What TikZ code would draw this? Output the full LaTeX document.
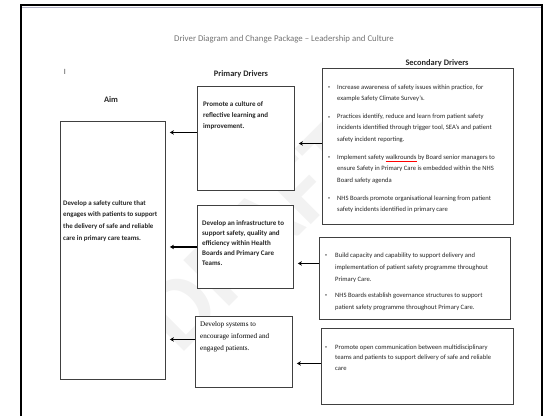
\documentclass[tikz,border=0pt]{standalone}
\usepackage{fontspec}
\setmainfont{Carlito}
\newfontfamily\wordserif{Liberation Serif}
\usetikzlibrary{shapes,calc,positioning,arrows.meta,shadows}

\newcommand{\bul}{\raisebox{0.6pt}{\scalebox{0.6}{\textbullet}}}
\newcommand{\spellmark}[1]{{\color{red}\underline{\textcolor{black!85}{#1}}}}

\begin{document}
\begin{tikzpicture}
	[x=1pt,y=-1pt,
	drvbox/.style={rectangle,draw=black!75,line width=0.9pt,fill=white,anchor=north west,inner sep=0pt,
		drop shadow={opacity=0.25,shadow xshift=1pt,shadow yshift=-1pt}},
	head/.style={font=\bfseries\fontsize{8.4}{9}\selectfont,text=black!85,inner sep=0pt},
	boxtext/.style={anchor=base west,inner sep=0pt,text=black!85,font=\fontsize{6.6}{11.3}\selectfont},
	feed/.style={-{Stealth[length=4pt,width=4.5pt]},line width=1.2pt,shorten >=4pt}]
	\useasboundingbox (0,0) rectangle (544,416);
	% watermark behind everything
	\node[rotate=45,text=black!5,font=\bfseries\fontsize{100}{100}\selectfont] (mark) at (255,235) {DRAFT};
	% page frame
	\draw[line width=1.6pt] (21,416) -- (21,5) -- (542,5) -- (542,416);
	\draw[line width=1pt,blue!25!black!30] (22,7) -- (541,7);
	
	\node[text=black!55,font=\fontsize{8.8}{10}\selectfont] (title) at (284,39) {Driver Diagram and Change Package -- Leadership and Culture};
	\node[head] (sechead) at (437,63) {Secondary Drivers};
	\node[head] (primhead) at (241,74) {Primary Drivers};
	\node[head] (aimhead) at (111,100) {Aim};
	\node[text=black!70,font=\fontsize{8}{9}\selectfont,inner sep=0pt] (cursor) at (65,72) {I};
	
	% boxes
	\node[drvbox,minimum width=105pt,minimum height=258pt] (aim) at (60,121) {};
	\node[drvbox,minimum width=97pt,minimum height=104pt] (p1) at (197,86) {};
	\node[drvbox,minimum width=96pt,minimum height=83pt] (p2) at (197,205) {};
	\node[drvbox,minimum width=97pt,minimum height=71pt] (p3) at (195,316) {};
	\node[drvbox,minimum width=191pt,minimum height=156pt] (s1) at (322,68) {};
	\node[drvbox,minimum width=191pt,minimum height=82pt] (s2) at (319,237) {};
	\node[drvbox,minimum width=192pt,minimum height=76pt] (s3) at (321,328) {};
	
	% texts
	\node[boxtext,font=\bfseries\fontsize{6.9}{11.7}\selectfont] (aimtxt) at (63,205)
	{\begin{tabular}[t]{@{}l@{}}Develop a safety culture that\\engages with patients to support\\the delivery of safe and reliable\\care in primary care teams.\end{tabular}};
	\node[boxtext,font=\bfseries\fontsize{7}{11}\selectfont] (p1txt) at (203,106)
	{\begin{tabular}[t]{@{}l@{}}Promote a culture of\\reflective learning and\\improvement.\end{tabular}};
	\node[boxtext,font=\bfseries\fontsize{7}{10.2}\selectfont] (p2txt) at (202,225)
	{\begin{tabular}[t]{@{}l@{}}Develop an infrastructure to\\support safety, quality and\\efficiency within Health\\Boards and Primary Care\\Teams.\end{tabular}};
	\node[boxtext,font=\wordserif\fontsize{7.1}{12}\selectfont,text=black] (p3txt) at (200,326)
	{\begin{tabular}[t]{@{}l@{}}Develop systems to\\encourage informed and\\engaged patients.\end{tabular}};
	
	\node[boxtext] (s1txt) at (328,89)
	{\begin{tabular}[t]{@{}p{9pt}@{}l@{}}
		\bul & Increase awareness of safety issues within practice, for\\
		& example Safety Climate Survey's.\\[7pt]
		\bul & Practices identify, reduce and learn from patient safety\\
		& incidents identified through trigger tool, SEA's and patient\\
		& safety incident reporting.\\[7pt]
		\bul & Implement safety \spellmark{walkrounds} by Board senior managers to\\
		& ensure Safety in Primary Care is embedded within the NHS\\
		& Board safety agenda\\[7pt]
		\bul & NHS Boards promote organisational learning from patient\\
		& safety incidents identified in primary care
	\end{tabular}};
	\node[boxtext,font=\fontsize{6.6}{12}\selectfont] (s2txt) at (325,257)
	{\begin{tabular}[t]{@{}p{10pt}@{}l@{}}
		\bul & Build capacity and capability to support delivery and\\
		& implementation of patient safety programme throughout\\
		& Primary Care.\\[4pt]
		\bul & NHS Boards establish governance structures to support\\
		& patient safety programme throughout Primary Care.
	\end{tabular}};
	\node[boxtext,font=\fontsize{6.6}{10.5}\selectfont] (s3txt) at (325,349)
	{\begin{tabular}[t]{@{}p{10pt}@{}l@{}}
		\bul & Promote open communication between multidisciplinary\\
		& teams and patients to support delivery of safe and reliable\\
		& care
	\end{tabular}};
	
	% connectors, right to left
	\foreach \from/\to/\dy in {s1/p1/3,s2/p2/15,s3/p3/3,p1/aim/6,p2/aim/0,p3/aim/12.5}
	{
		\draw[feed] ([yshift=\dy pt]\from.west) -- ([yshift=\dy pt]\from.west -| \to.east);
	}
\end{tikzpicture}
\end{document}
